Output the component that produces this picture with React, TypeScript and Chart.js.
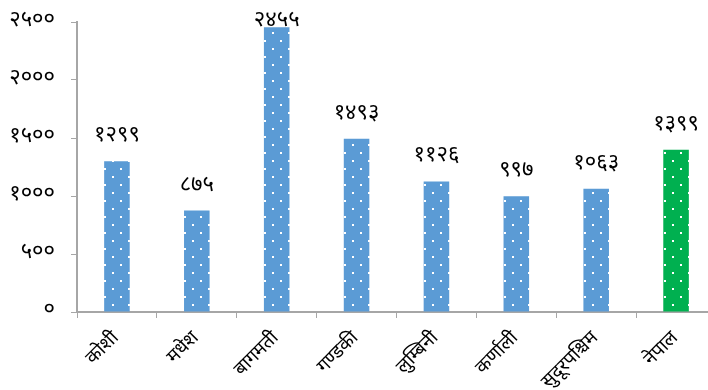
import React, { useEffect, useRef } from "react";
import { Chart, registerables } from "chart.js";

Chart.register(...registerables);

const categories = ["कोशी", "मधेश", "बागमती", "गण्डकी", "लुम्बिनी", "कर्णाली", "सुदूरपश्चिम", "नेपाल"];
const values = [1299, 875, 2455, 1493, 1126, 997, 1063, 1399];
const barColors = ["#5B9BD5", "#5B9BD5", "#5B9BD5", "#5B9BD5", "#5B9BD5", "#5B9BD5", "#5B9BD5", "#00B050"];
const yTicks = [0, 500, 1000, 1500, 2000, 2500];

const DEV = ["०", "१", "२", "३", "४", "५", "६", "७", "८", "९"];
const toDev = (n: number) => String(n).replace(/[0-9]/g, (d) => DEV[Number(d)]);

const FONT = "'Noto Sans Devanagari', 'Nirmala UI', 'Mangal', 'Noto Sans', sans-serif";

function makePattern(color: string): CanvasPattern | string {
  const c = document.createElement("canvas");
  c.width = 16;
  c.height = 16;
  const g = c.getContext("2d");
  if (!g) return color;
  g.fillStyle = color;
  g.fillRect(0, 0, 16, 16);
  g.fillStyle = "#ffffff";
  g.fillRect(0, 0, 2, 2);
  g.fillRect(8, 8, 2, 2);
  const p = g.createPattern(c, "repeat");
  return p || color;
}

const labelPlugin = {
  id: "valueLabels",
  afterDatasetsDraw(chart: any) {
    const ctx = chart.ctx;
    const meta = chart.getDatasetMeta(0);
    ctx.save();
    ctx.font = `22px ${FONT}`;
    ctx.fillStyle = "#000";
    ctx.textAlign = "center";
    ctx.textBaseline = "middle";
    meta.data.forEach((el: any, i: number) => {
      const y = Math.max(el.y - 24, chart.chartArea.top);
      ctx.fillText(toDev(values[i]), el.x, y);
    });
    ctx.restore();
  },
};

export default function App() {
  const ref = useRef<HTMLCanvasElement | null>(null);
  useEffect(() => {
    if (!ref.current) return;
    const chart = new Chart(ref.current, {
      type: "bar",
      data: {
        labels: categories,
        datasets: [
          {
            data: values,
            backgroundColor: barColors.map((c) => makePattern(c)) as any,
            borderWidth: 0,
            barPercentage: 0.32,
            categoryPercentage: 1,
          },
        ],
      },
      options: {
        responsive: false,
        animation: false,
        layout: { padding: { top: 22, left: 0, right: 0, bottom: 0 } },
        plugins: { legend: { display: false }, tooltip: { enabled: false } },
        scales: {
          x: {
            grid: { display: true, drawOnChartArea: false, drawTicks: true, tickLength: 6, color: "#A6A6A6", offset: true },
            border: { display: true, color: "#A6A6A6", width: 2 },
            ticks: {
              autoSkip: false,
              maxRotation: 45,
              minRotation: 45,
              color: "#000",
              font: { size: 19, family: FONT },
              padding: 10,
            },
            afterFit: (s: any) => {
              s.height = 78;
              s.paddingLeft = 0;
              s.paddingRight = 0;
            },
          },
          y: {
            min: 0,
            max: 2500,
            afterBuildTicks: (s: any) => {
              s.ticks = yTicks.map((v) => ({ value: v }));
            },
            grid: { display: true, drawOnChartArea: false, drawTicks: true, tickLength: 6, color: "#A6A6A6" },
            border: { display: true, color: "#A6A6A6", width: 2 },
            ticks: {
              color: "#000",
              font: { size: 22, family: FONT },
              padding: 16,
              callback: (v: any) => toDev(Number(v)),
            },
            afterFit: (s: any) => {
              s.width = 77;
              s.paddingTop = 0;
              s.paddingBottom = 0;
            },
          },
        },
      },
      plugins: [labelPlugin],
    });
    return () => chart.destroy();
  }, []);
  return (
    <div style={{ position: "fixed", left: 0, top: 0, width: 708, height: 390, overflow: "hidden", background: "#fff" }}>
      <canvas ref={ref} width={716} height={390} style={{ display: "block" }} />
    </div>
  );
}
